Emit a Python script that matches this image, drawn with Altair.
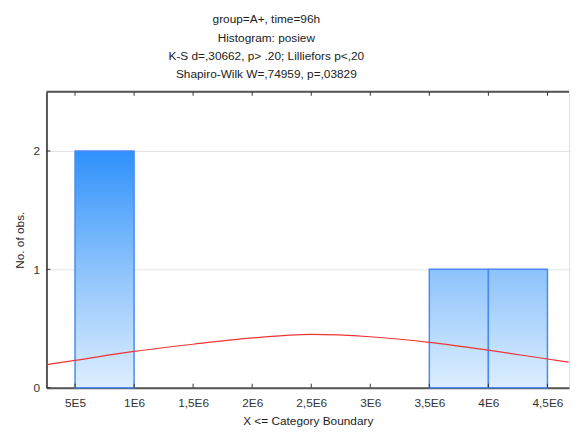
import altair as alt
import pandas as pd

# ---- data ----
bin_start = [500000, 3500000, 4000000]
bin_end = [1000000, 4000000, 4500000]
counts = [2, 1, 1]

curve_x = [260000, 500000, 1000000, 1500000, 2000000, 2500000, 3000000,
           3500000, 4000000, 4500000, 4680000]
curve_y = [0.194, 0.23, 0.306, 0.367, 0.42, 0.45, 0.43, 0.383, 0.317, 0.242, 0.215]

x_tick_values = [500000, 1000000, 1500000, 2000000, 2500000, 3000000,
                 3500000, 4000000, 4500000]
x_tick_labels = ["5E5", "1E6", "1,5E6", "2E6", "2,5E6", "3E6", "3,5E6", "4E6", "4,5E6"]
y_tick_values = [0, 1, 2]

title_lines = ["group=A+, time=96h", "Histogram: posiew",
               "K-S d=,30662, p> .20; Lilliefors p<,20",
               "Shapiro-Wilk W=,74959, p=,03829"]

X_MIN, X_MAX = 258000, 4683000
Y_MAX = 2.5
FONT = "Liberation Sans"

bars = pd.DataFrame({"start": bin_start, "end": bin_end, "count": counts})
curve = pd.DataFrame({"x": curve_x, "y": curve_y})
xt = pd.DataFrame({"v": x_tick_values})
yt = pd.DataFrame({"v": y_tick_values})

label_expr = ""
for v, l in zip(x_tick_values, x_tick_labels):
    label_expr += f"datum.value == {v} ? '{l}' : "
label_expr += "''"

xscale = alt.Scale(domain=[X_MIN, X_MAX], nice=False, zero=False)
yscale = alt.Scale(domain=[0, Y_MAX], nice=False)

xaxis = alt.Axis(values=x_tick_values, labelExpr=label_expr, tickSize=0, grid=False,
                 domainColor="#555555", domainWidth=2, labelFont=FONT, labelFontSize=12,
                 labelColor="#333333", labelPadding=10, title="X <= Category Boundary",
                 titleFont=FONT, titleFontSize=12, titleFontWeight="normal",
                 titleColor="#222222", titlePadding=7, labelFlush=False)
yaxis = alt.Axis(values=y_tick_values, format="d", tickSize=0, grid=True,
                 gridColor="#e4e4e4",
                 domainColor="#555555", domainWidth=2, labelFont=FONT, labelFontSize=12,
                 labelColor="#333333", labelPadding=7, title="No. of obs.",
                 titleFont=FONT, titleFontSize=12, titleFontWeight="normal",
                 titleColor="#222222", titlePadding=7)

base_bars = alt.Chart(bars)

tall = base_bars.transform_filter("datum.count >= 2").mark_bar(
    stroke="#4a8aee", strokeWidth=1.5,
    color={"gradient": "linear", "x1": 0, "y1": 0, "x2": 0, "y2": 1,
           "stops": [{"offset": 0, "color": "#2f91fb"},
                     {"offset": 0.5, "color": "#8cc3fc"},
                     {"offset": 1, "color": "#ddeefe"}]}
).encode(
    x=alt.X("start:Q", scale=xscale, axis=xaxis),
    x2="end:Q",
    y=alt.Y("count:Q", scale=yscale, axis=yaxis),
    y2=alt.datum(0),
)

short = base_bars.transform_filter("datum.count < 2").mark_bar(
    stroke="#4a8aee", strokeWidth=1.5,
    color={"gradient": "linear", "x1": 0, "y1": 0, "x2": 0, "y2": 1,
           "stops": [{"offset": 0, "color": "#8cc3fc"},
                     {"offset": 1, "color": "#ddeefe"}]}
).encode(
    x=alt.X("start:Q", scale=xscale),
    x2="end:Q",
    y=alt.Y("count:Q", scale=yscale),
    y2=alt.datum(0),
)

line = alt.Chart(curve).mark_line(color="#f03535", strokeWidth=1.2,
                                  interpolate="monotone", clip=True).encode(
    x=alt.X("x:Q", scale=xscale), y=alt.Y("y:Q", scale=yscale))

# top border
top = alt.Chart(pd.DataFrame({"a": [X_MIN], "b": [X_MAX], "y": [Y_MAX]})).mark_rule(
    color="#555555", strokeWidth=2).encode(
    x=alt.X("a:Q", scale=xscale), x2="b:Q", y=alt.Y("y:Q", scale=yscale))

# inward ticks (bottom, top, left)
bt = alt.Chart(xt).mark_rule(color="#333333", strokeWidth=1).encode(
    x=alt.X("v:Q", scale=xscale), y=alt.value(300), y2=alt.value(296))
tt = alt.Chart(xt).mark_rule(color="#333333", strokeWidth=1).encode(
    x=alt.X("v:Q", scale=xscale), y=alt.value(0), y2=alt.value(4))
lt = alt.Chart(yt).mark_rule(color="#333333", strokeWidth=1).encode(
    y=alt.Y("v:Q", scale=yscale), x=alt.value(0), x2=alt.value(4))

chart = alt.layer(tall, short, line, top, bt, tt, lt).properties(
    width=530, height=300,
    title=alt.TitleParams(text=title_lines, font=FONT, fontSize=12, fontWeight="normal",
                          color="#222222", lineHeight=18.5, anchor="middle", dx=-42,
                          offset=10),
    autosize=alt.AutoSizeParams(type="none"),
    padding={"left": 39, "top": 82, "right": 4, "bottom": 45},
).configure_view(stroke=None).configure(background="white")

chart.save("out.html", embed_options={"renderer": "svg", "actions": False})
